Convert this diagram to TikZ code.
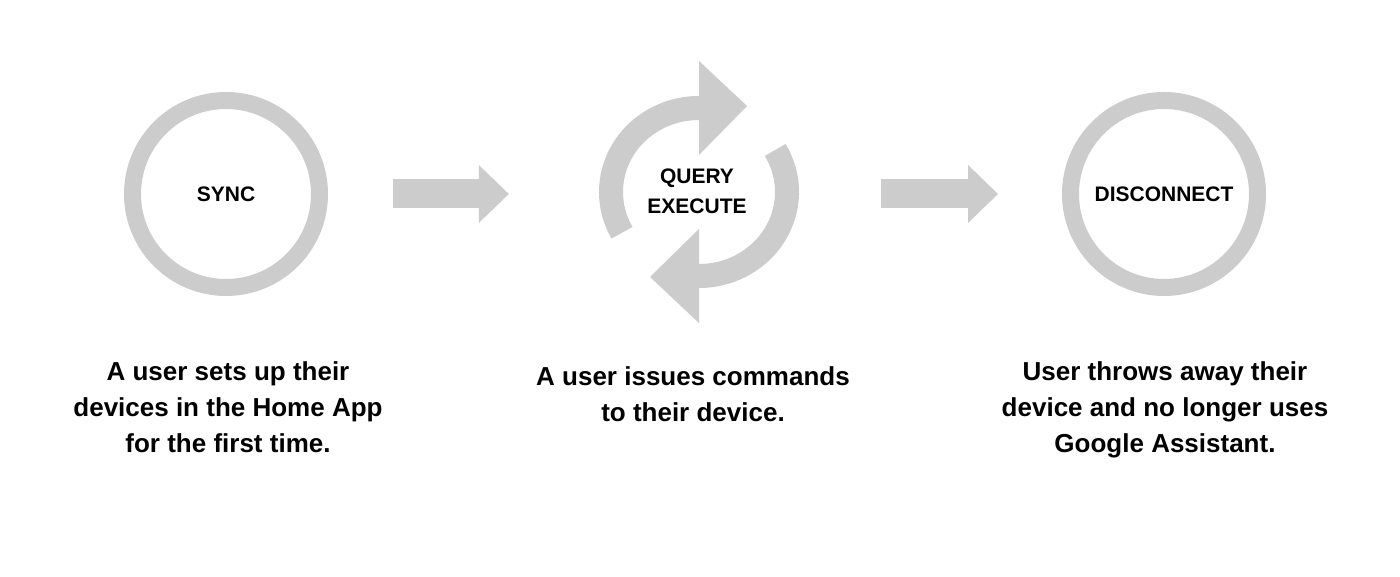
\documentclass[tikz,border=0pt]{standalone}
\usepackage{fontspec}
\setmainfont{Liberation Sans}
\usetikzlibrary{arrows.meta}
\definecolor{ringgray}{RGB}{204,204,204}

\begin{document}
\begin{tikzpicture}[x=1pt, y=1pt,
    ring/.style={circle, draw=ringgray, line width=17pt, minimum size=187pt, inner sep=0pt, font=\fontsize{21}{30}\selectfont\bfseries},
    hub/.style={circle, minimum size=200pt, inner sep=0pt, align=center, font=\fontsize{21}{30}\selectfont\bfseries},
    caption/.style={anchor=north, inner sep=0pt, align=center, font=\fontsize{26}{36}\selectfont\bfseries},
    flow/.style={draw=ringgray, line width=29pt, -{Triangle[length=30pt, width=58pt, line width=0pt, color=ringgray, fill=ringgray]}},
    turn/.style={fill=ringgray}]
    \fill[white] (0, 0) rectangle (1400, 577);
    \useasboundingbox (0, 0) rectangle (1400, 577);

    \node[ring] at (226, 383)(sync){SYNC};
    \node[hub] at (697, 386)(query){QUERY\\EXECUTE};
    \node[ring] at (1164, 383)(disconnect){DISCONNECT};
    \coordinate (cyc) at (699, 385);

    % the two turning arrows, band and head in one outline
    \path[turn] ([shift={(209:100 and 96)}]cyc) arc[start angle=209, end angle=90, x radius=100, y radius=96]
        -- ([shift={(0, 131)}]cyc) -- ([shift={(48, 86)}]cyc) -- ([shift={(0, 37)}]cyc) -- ([shift={(0, 72)}]cyc)
        arc[start angle=90, end angle=209, x radius=76, y radius=72] -- cycle;
    \path[turn] ([shift={(30:100 and 96)}]cyc) arc[start angle=30, end angle=-90, x radius=100, y radius=96]
        -- ([shift={(0, -131)}]cyc) -- ([shift={(-49, -85)}]cyc) -- ([shift={(0, -37)}]cyc) -- ([shift={(0, -72)}]cyc)
        arc[start angle=-90, end angle=30, x radius=76, y radius=72] -- cycle;

    \draw[flow, shorten <=65pt, shorten >=88pt] (sync.east) -- (sync.east -| query.west);
    \draw[flow, shorten <=84pt, shorten >=64pt] (query.east |- disconnect.west) -- (disconnect.west);

    \node[caption] at (228, 216)(setup){A user sets up their\\devices in the Home App\\for the first time.};
    \node[caption] at (693, 211)(commands){A user issues commands\\to their device.};
    \node[caption] at (1165, 216)(removal){User throws away their\\device and no longer uses\\Google Assistant.};
\end{tikzpicture}
\end{document}
